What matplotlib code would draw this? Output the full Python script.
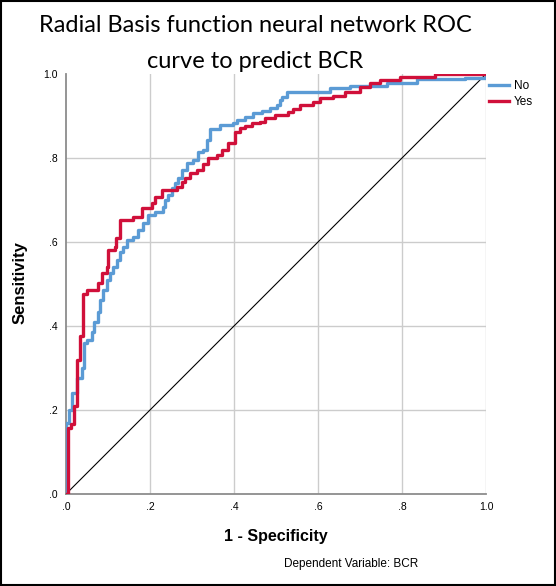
import numpy as np
import matplotlib.pyplot as plt
from matplotlib.patches import Rectangle

# ROC step vertices (1 - specificity, sensitivity)
fpr_no = [0.0, 0.0, 0.007, 0.014, 0.027, 0.038, 0.042, 0.05, 0.062, 0.067, 0.076,
          0.081, 0.088, 0.098, 0.105, 0.112, 0.121, 0.129, 0.136, 0.145, 0.16,
          0.172, 0.184, 0.196, 0.212, 0.231, 0.236, 0.243, 0.252, 0.26, 0.267,
          0.276, 0.288, 0.302, 0.314, 0.326, 0.336, 0.343, 0.367, 0.398, 0.407,
          0.426, 0.445, 0.467, 0.486, 0.502, 0.51, 0.515, 0.526, 0.629, 0.676,
          0.764, 0.836, 0.95, 1.0]
tpr_no = [0.0, 0.17, 0.2, 0.24, 0.276, 0.3, 0.36, 0.367, 0.386, 0.41, 0.433,
          0.462, 0.486, 0.51, 0.526, 0.54, 0.557, 0.576, 0.588, 0.605, 0.612,
          0.629, 0.645, 0.664, 0.671, 0.683, 0.7, 0.712, 0.729, 0.74, 0.752,
          0.771, 0.788, 0.795, 0.814, 0.819, 0.843, 0.869, 0.879, 0.883, 0.89,
          0.898, 0.907, 0.912, 0.919, 0.926, 0.938, 0.945, 0.957, 0.967, 0.971,
          0.979, 0.988, 0.99, 1.0]

fpr_yes = [0.0, 0.005, 0.012, 0.02, 0.027, 0.033, 0.04, 0.05, 0.076, 0.086,
           0.097, 0.1, 0.117, 0.12, 0.129, 0.16, 0.18, 0.205, 0.212, 0.228,
           0.264, 0.276, 0.283, 0.295, 0.312, 0.326, 0.338, 0.36, 0.371, 0.386,
           0.402, 0.414, 0.426, 0.443, 0.462, 0.474, 0.498, 0.529, 0.541, 0.557,
           0.588, 0.605, 0.636, 0.664, 0.7, 0.724, 0.748, 0.795, 0.879, 1.0]
tpr_yes = [0.0, 0.157, 0.167, 0.21, 0.32, 0.376, 0.476, 0.486, 0.502, 0.526,
           0.54, 0.58, 0.588, 0.61, 0.652, 0.66, 0.68, 0.693, 0.707, 0.724,
           0.731, 0.743, 0.752, 0.764, 0.771, 0.786, 0.8, 0.807, 0.819, 0.836,
           0.862, 0.871, 0.876, 0.883, 0.886, 0.895, 0.902, 0.91, 0.917, 0.926,
           0.933, 0.943, 0.948, 0.957, 0.969, 0.979, 0.986, 0.993, 1.0, 1.0]

ticks = [0.0, 0.2, 0.4, 0.6, 0.8, 1.0]
tick_labels = [".0", ".2", ".4", ".6", ".8", "1.0"]

fig = plt.figure(figsize=(5.56, 5.86), dpi=100)
ax = fig.add_axes([66 / 556, 92 / 586, 420 / 556, 420 / 586])

grid_c = "#cccccc"
for t in ticks[1:]:
    ax.axvline(t, color=grid_c, lw=1.0, zorder=0)
for t in ticks[1:-1]:
    ax.axhline(t, color=grid_c, lw=1.0, zorder=0)

ax.plot([0, 1], [0, 1], color="black", lw=0.8, zorder=2)
ax.plot(fpr_no, tpr_no, drawstyle="steps-post", color="#5b9bd5", lw=2.4,
        label="No", zorder=3)
ax.plot(fpr_yes, tpr_yes, drawstyle="steps-post", color="#d0103a", lw=2.4,
        label="Yes", zorder=4)

ax.set_xlim(0, 1)
ax.set_ylim(0, 1)
ax.set_xticks(ticks)
ax.set_xticklabels(tick_labels)
ax.set_yticks(ticks)
ax.set_yticklabels(tick_labels)
ax.tick_params(length=0, labelsize=7.5, pad=6)
for lbl in ax.get_xticklabels() + ax.get_yticklabels():
    lbl.set_family("Liberation Sans")
for s in ["top", "right"]:
    ax.spines[s].set_visible(False)
for s in ["left", "bottom"]:
    ax.spines[s].set_color("#8c8c8c")
    ax.spines[s].set_linewidth(1.3)

ax.set_xlabel("1 - Specificity", fontsize=11.5, fontweight="bold",
              family="Liberation Sans", labelpad=12)
fig.text(20 / 556, 1 - 283 / 586, "Sensitivity", rotation=90, ha="center",
         va="center", fontsize=12, fontweight="bold", family="Liberation Sans")

fig.text(255 / 556, 1 - 25 / 586, "Radial Basis function neural network ROC",
         ha="center", va="center", fontsize=17, family="Lato")
fig.text(255 / 556, 1 - 62 / 586, "curve to predict BCR",
         ha="center", va="center", fontsize=17, family="Lato")
fig.text(351 / 556, 1 - 564 / 586, "Dependent Variable: BCR", ha="center",
         va="center", fontsize=8.5, family="Liberation Sans")

fig.legend(loc="upper left", bbox_to_anchor=(489 / 556, 1 - 80 / 586),
           frameon=False, handlelength=1.7, handletextpad=0.4,
           labelspacing=0.35, borderaxespad=0, borderpad=0,
           prop={"family": "Liberation Sans", "size": 8.5})

fig.patches.append(Rectangle((0.002, 0.002), 0.996, 0.996, transform=fig.transFigure,
                             fill=False, edgecolor="black", lw=1.5))

fig.savefig("out.png", dpi=100)
